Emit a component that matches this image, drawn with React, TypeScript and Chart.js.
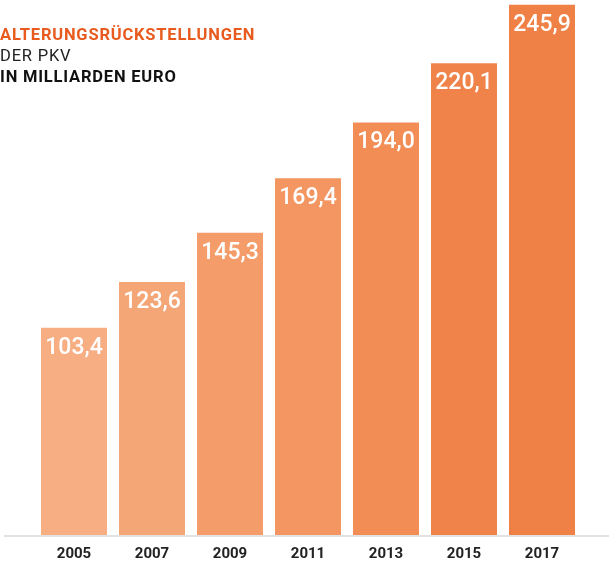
import React, { useEffect, useRef } from "react";
import { Chart, registerables } from "chart.js";

Chart.register(...registerables);

const years = ["2005", "2007", "2009", "2011", "2013", "2015", "2017"];
const values = [103.4, 123.6, 145.3, 169.4, 194.0, 220.1, 245.9];
const barColors = ["#F6AE82", "#F5A676", "#F49D6B", "#F39661", "#F28D56", "#F0834A", "#EF8046"];
const titleLines = ["ALTERUNGSRÜCKSTELLUNGEN", "DER PKV", "IN MILLIARDEN EURO"];

const valueLabels = {
  id: "valueLabels",
  afterDatasetsDraw(chart: any) {
    const ctx = chart.ctx;
    const meta = chart.getDatasetMeta(0);
    ctx.save();
    ctx.fillStyle = "#ffffff";
    ctx.font = "500 23px Roboto";
    ctx.textAlign = "center";
    ctx.textBaseline = "middle";
    meta.data.forEach((bar: any, i: number) => {
      const txt = values[i].toFixed(1).replace(".", ",");
      ctx.fillText(txt, bar.x, bar.y + 20);
    });
    ctx.restore();
  },
};

const baseLine = {
  id: "baseLine",
  afterDatasetsDraw(chart: any) {
    const ctx = chart.ctx;
    const y = chart.chartArea.bottom + 1;
    ctx.save();
    ctx.strokeStyle = "#d9d9d9";
    ctx.lineWidth = 1.5;
    ctx.beginPath();
    ctx.moveTo(4, y);
    ctx.lineTo(chart.width, y);
    ctx.stroke();
    ctx.restore();
  },
};

export default function App() {
  const ref = useRef<HTMLCanvasElement>(null);
  useEffect(() => {
    if (!ref.current) return;
    const chart = new Chart(ref.current, {
      type: "bar",
      data: {
        labels: years,
        datasets: [
          {
            data: values,
            backgroundColor: barColors,
            borderWidth: 0,
            categoryPercentage: 1,
            barPercentage: 0.846,
          },
        ],
      },
      options: {
        animation: false,
        responsive: false,
        maintainAspectRatio: false,
        layout: { padding: { left: 35, right: 28, top: 0, bottom: -10 } },
        plugins: { legend: { display: false }, tooltip: { enabled: false } },
        scales: {
          x: {
            grid: { display: false, drawTicks: false },
            border: { display: false },
            ticks: {
              color: "#222222",
              font: { family: "Roboto", size: 15, weight: "bold" },
              padding: 10,
            },
          },
          y: {
            display: false,
            min: 12,
            max: 248,
          },
        },
      },
      plugins: [valueLabels, baseLine],
    });
    return () => chart.destroy();
  }, []);

  return (
    <div style={{ position: "fixed", left: 0, top: 0, width: 609, height: 563, background: "#fff", overflow: "hidden" }}>
      <canvas ref={ref} width={609} height={563} style={{ position: "absolute", left: 0, top: 0 }} />
      <div
        style={{
          position: "absolute",
          left: 0,
          top: 24,
          fontFamily: "Roboto",
          fontSize: 16.5,
          lineHeight: "21px",
          letterSpacing: 0.8,
        }}
      >
        <div style={{ color: "#E85A1E", fontWeight: 700 }}>{titleLines[0]}</div>
        <div style={{ color: "#222222", fontWeight: 400 }}>{titleLines[1]}</div>
        <div style={{ color: "#111111", fontWeight: 700 }}>{titleLines[2]}</div>
      </div>
    </div>
  );
}
